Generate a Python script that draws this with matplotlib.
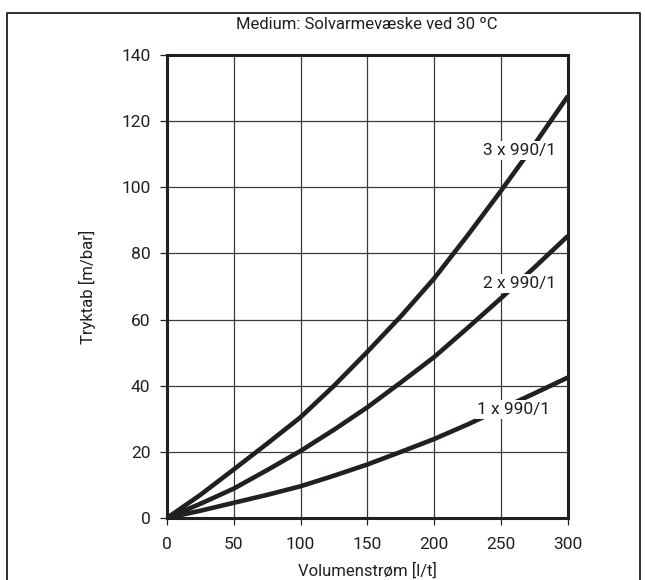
import matplotlib
matplotlib.use("Agg")
import matplotlib.pyplot as plt
from matplotlib.lines import Line2D

plt.rcParams['font.family'] = ['Roboto', 'DejaVu Sans']

# volumenstrøm [l/t]
flow = [0, 25, 50, 75, 100, 125, 150, 175, 200, 225, 250, 275, 300]

# tryktab for 1, 2 og 3 paneler
one_panel = [0, 2.2, 4.6, 7.0, 9.6, 12.8, 16.2, 20.0, 23.9, 28.3, 33.0, 37.7, 42.5]
two_panels = [0, 4.3, 8.9, 14.5, 20.3, 26.7, 33.5, 41.0, 48.7, 57.5, 66.5, 75.8, 85.3]
three_panels = [0, 7.0, 14.7, 22.5, 30.5, 40.0, 50.3, 61.0, 72.5, 85.5, 99.0, 113.0, 127.6]

labels = ["1 x 990/1", "2 x 990/1", "3 x 990/1"]
label_pos = [(259, 32.7), (264, 71), (264, 111)]

xticks = [0, 50, 100, 150, 200, 250, 300]
yticks = [0, 20, 40, 60, 80, 100, 120, 140]

fig = plt.figure(figsize=(6.45, 5.8), dpi=100)
ax = fig.add_axes([0.2589, 0.1069, 0.6217, 0.7983])

for series in (one_panel, two_panels, three_panels):
    ax.plot(flow, series, color='#231f20', lw=3.3, solid_capstyle='butt', zorder=3)

for txt, (x, y) in zip(labels, label_pos):
    ax.text(x, y, txt, ha='center', va='center', fontsize=12.5, color='#231f20',
            bbox=dict(facecolor='white', edgecolor='none', pad=1.5), zorder=4)

ax.set_xlim(0, 300)
ax.set_ylim(0, 140)
ax.set_xticks(xticks)
ax.set_yticks(yticks)
ax.grid(True, color='#3a3a3a', lw=0.9)
ax.set_axisbelow(True)
for s in ax.spines.values():
    s.set_linewidth(2.2)
    s.set_color('#231f20')
ax.tick_params(direction='out', length=5, width=0.9, labelsize=12.5, colors='#231f20')
ax.tick_params(axis='x', pad=9)
ax.tick_params(axis='y', pad=7)

ax.set_ylabel("Tryktab [m/bar]", fontsize=12, color='#231f20', labelpad=18)
fig.text(0.569, 0.957, "Medium: Solvarmevæske ved 30 ºC", ha='center', va='center',
         fontsize=12, color='#231f20')
fig.text(0.569, 0.002, "Volumenstrøm [l/t]", ha='center', va='bottom',
         fontsize=12, color='#231f20')

# ramme rundt om diagrammet
fig.add_artist(Line2D([0.011, 0.011, 0.993, 0.993], [0.0, 0.978, 0.978, 0.0],
                      transform=fig.transFigure, color='#231f20', lw=1.3))

fig.savefig("out.png", dpi=100)
